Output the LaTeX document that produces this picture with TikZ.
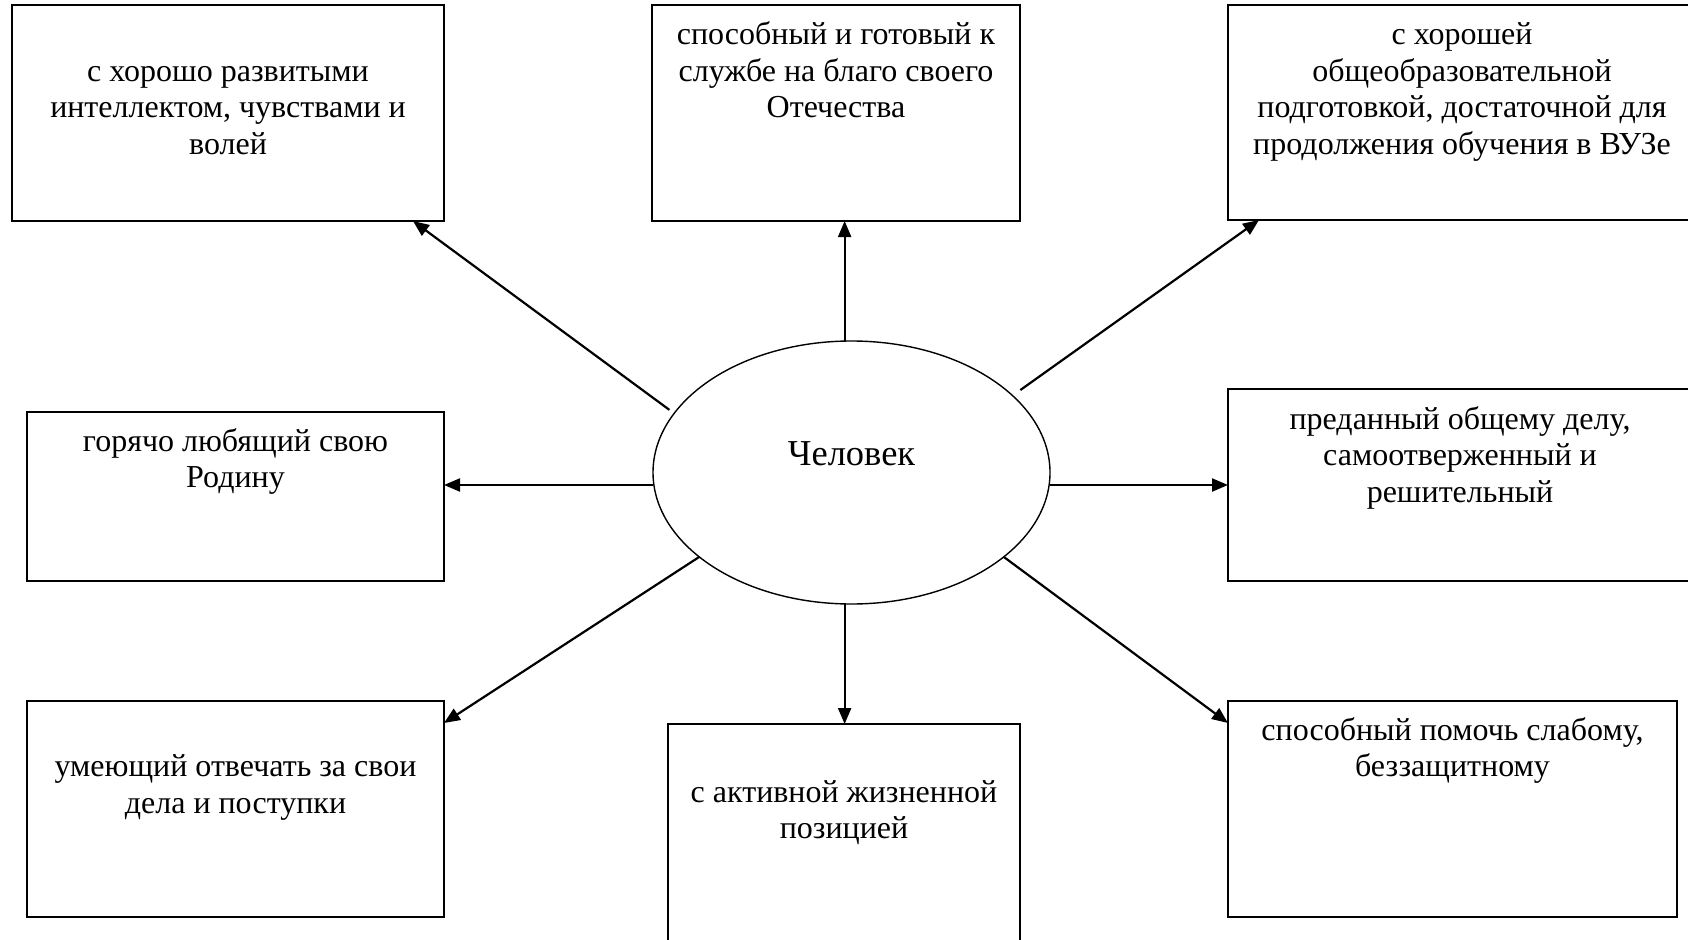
\documentclass[tikz,border=0pt]{standalone}
\usepackage{fontspec}
\setmainfont{Liberation Serif}
\usetikzlibrary{arrows.meta,shapes.geometric}
\begin{document}
\begin{tikzpicture}[x=1pt,y=-1pt,
  box/.style={draw,line width=2pt,rectangle,inner sep=0pt,outer sep=0pt,anchor=north west},
  txt/.style={align=center,inner sep=0pt,anchor=north,font=\fontsize{32}{36.6}\selectfont},
  arr/.style={line width=2.2pt,-{Triangle[length=16pt,width=13pt]}}
]
\useasboundingbox (0,0) rectangle (1688,939);
\clip (0,0) rectangle (1688,939);
\fill[white] (0,0) rectangle (1688,939);

\node[box,minimum width=432pt,minimum height=216pt] (b1) at (12,5) {};
\node[box,minimum width=368pt,minimum height=216pt] (b2) at (652,5) {};
\node[box,minimum width=468pt,minimum height=215pt] (b3) at (1228,5) {};
\node[box,minimum width=417pt,minimum height=169pt] (b4) at (27,412) {};
\node[box,minimum width=467pt,minimum height=192pt] (b5) at (1228,389) {};
\node[box,minimum width=417pt,minimum height=216pt] (b6) at (27,701) {};
\node[box,minimum width=352pt,minimum height=240pt] (b7) at (668,724) {};
\node[box,minimum width=449pt,minimum height=216pt] (b8) at (1228,701) {};

\node[draw,ellipse,line width=1.4pt,inner sep=0pt,outer sep=0pt,
      minimum width=397pt,minimum height=263pt] (c) at (851.5,472.5) {};
\node[anchor=base,inner sep=0pt,font=\fontsize{36.5}{40}\selectfont] (lbl) at (851.5,465) {Человек};

\node[txt] (t1) at (228,55) {\rule{0pt}{26pt}с хорошо развитыми\\интеллектом, чувствами и\\волей};
\node[txt] (t2) at (836,18.5) {\rule{0pt}{26pt}способный и готовый к\\службе на благо своего\\Отечества};
\node[txt] (t3) at (1462,18.5) {\rule{0pt}{26pt}с хорошей\\общеобразовательной\\подготовкой, достаточной для\\продолжения обучения в ВУЗе};
\node[txt] (t4) at (235.5,425) {\rule{0pt}{26pt}горячо любящий свою\\Родину};
\node[txt] (t5) at (1460,403) {\rule{0pt}{26pt}преданный общему делу,\\самоотверженный и\\решительный};
\node[txt] (t6) at (235.5,750.5) {\rule{0pt}{26pt}умеющий отвечать за свои\\дела и поступки};
\node[txt] (t7) at (844,776) {\rule{0pt}{26pt}с активной жизненной\\позицией};
\node[txt] (t8) at (1452.5,714) {\rule{0pt}{26pt}способный помочь слабому,\\беззащитному};

\draw[arr] ([shift={(-6pt,2pt)}]c.161.7) -- ([xshift=-31pt]b1.south east);
\draw[arr] (c.93) -- (c.93 |- b2.south);
\draw[arr] ([shift={(9pt,4.5pt)}]c.26.5) -- ([xshift=31pt]b3.south west);
\draw[arr] (c.west |- b5.west) -- (b4.east |- b5.west);
\draw[arr] (c.east |- b5.west) -- (b5.west);
\draw[arr] (c.209.15) -- ([yshift=-22pt]b6.north east);
\draw[arr] (c.267) -- (c.267 |- b7.north);
\draw[arr] (c.331) -- ([yshift=-22pt]b8.north west);
\end{tikzpicture}
\end{document}
